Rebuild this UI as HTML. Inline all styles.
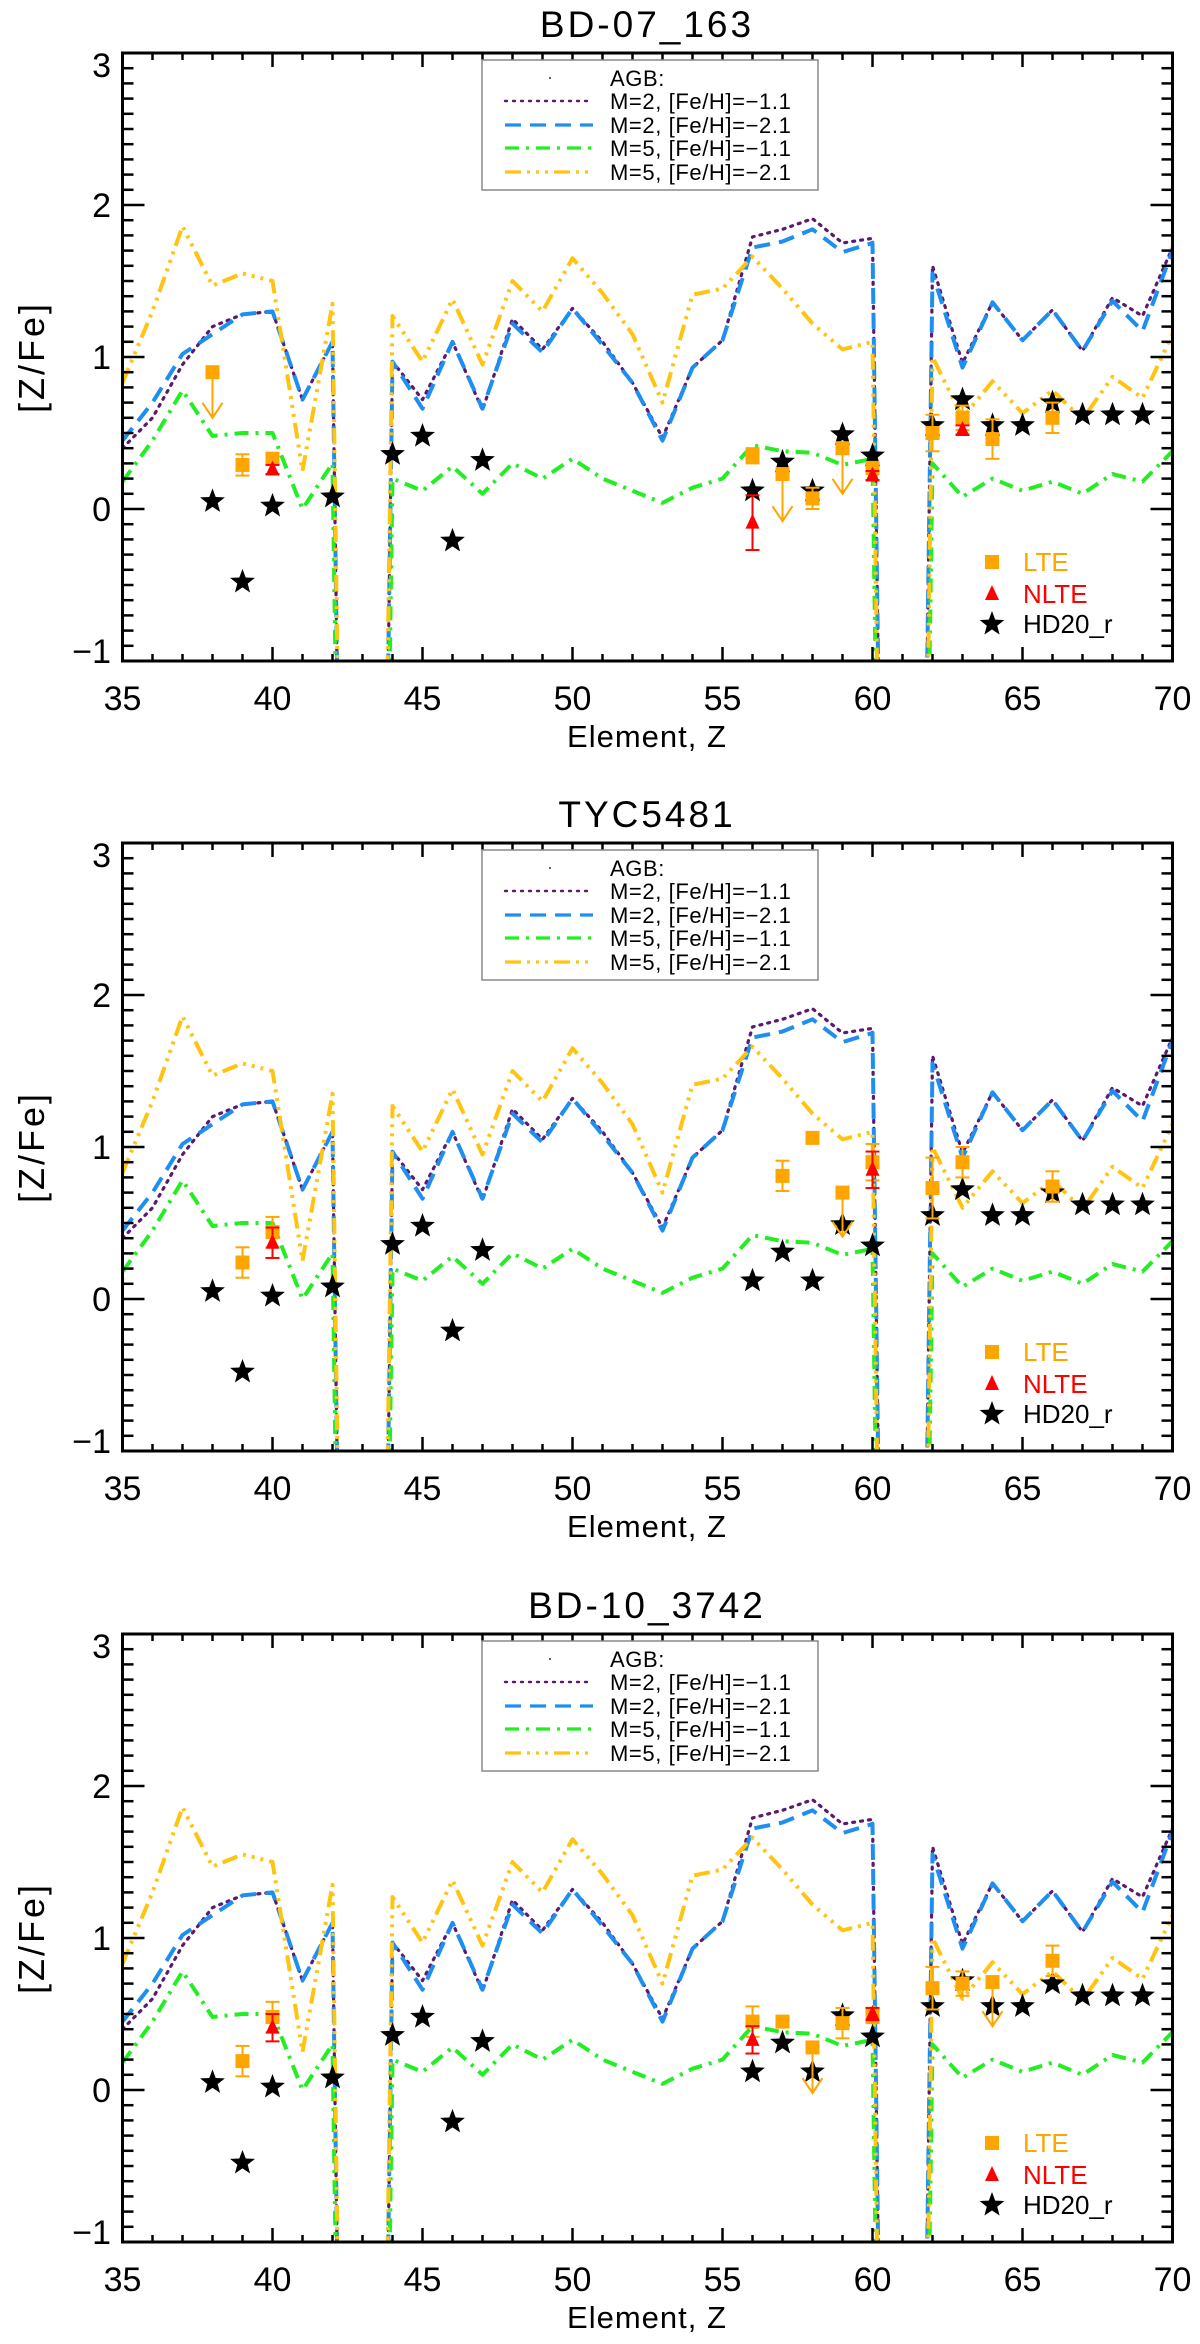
<!DOCTYPE html>
<html><head><meta charset="utf-8">
<style>
html,body{margin:0;padding:0;background:#fff;width:1200px;height:2344px;overflow:hidden;}
svg{display:block;font-family:"Liberation Sans",Arial,sans-serif;}
</style></head>
<body>
<svg id="fig" xmlns="http://www.w3.org/2000/svg" width="1200" height="2344" viewBox="0 0 1200 2344"></svg>
<script>
// ---- data ----
const modelZ = [35,36,37,38,39,40,41,42,43,44,45,46,47,48,49,50,51,52,53,54,55,56,57,58,59,60,61,62,63,64,65,66,67,68,69,70];
const m2fe11 = [0.40,0.60,0.95,1.20,1.28,1.30,0.72,1.10,-13,0.97,0.72,1.10,0.65,1.25,1.05,1.32,1.10,0.83,0.47,0.93,1.11,1.79,1.84,1.91,1.75,1.78,-13,1.60,0.96,1.36,1.11,1.31,1.04,1.39,1.27,1.72];
const m2fe21 = [0.45,0.70,1.02,1.15,1.28,1.30,0.72,1.10,-13,0.97,0.66,1.10,0.66,1.22,1.03,1.32,1.08,0.83,0.45,0.93,1.11,1.72,1.76,1.84,1.69,1.75,-13,1.55,0.93,1.36,1.11,1.31,1.04,1.37,1.17,1.70];
const m5fe11 = [0.18,0.45,0.78,0.48,0.50,0.50,0.00,0.30,-13,0.20,0.12,0.28,0.10,0.30,0.20,0.33,0.20,0.12,0.04,0.14,0.20,0.42,0.38,0.37,0.29,0.33,-13,0.30,0.08,0.20,0.12,0.18,0.10,0.23,0.18,0.38];
const m5fe21 = [0.83,1.30,1.86,1.47,1.55,1.50,0.25,1.35,-13,1.27,0.97,1.38,0.95,1.50,1.30,1.65,1.42,1.15,0.70,1.41,1.45,1.66,1.45,1.22,1.05,1.10,-13,1.00,0.60,0.84,0.63,0.78,0.59,0.87,0.73,1.15];

const hdZ = [38,39,40,42,44,45,46,47,56,57,58,59,60,62,63,64,65,66,67,68,69];
const hdVal = [0.05,-0.48,0.02,0.08,0.36,0.48,-0.21,0.32,0.12,0.31,0.12,0.49,0.35,0.55,0.72,0.55,0.55,0.70,0.62,0.62,0.62];

const titles = ["BD-07_163","TYC5481","BD-10_3742"];
const lteZ1 = [38,39,40,56,57,58,59,60,62,63,64,66];
const lteV1 = [0.90,0.29,0.33,0.35,0.23,0.07,0.40,0.27,0.50,0.60,0.46,0.60];
const lteE1 = [0,0.07,0.04,0.05,0,0.07,0,0.04,0.12,0.08,0.13,0.10];
const lteL1 = [0.60,null,null,null,-0.08,null,0.10,null,null,null,null,null];
const nlteZ1 = [40,56,60,63];
const nlteV1 = [0.26,-0.09,0.22,0.52];
const nlteE1 = [0.03,0.18,0.03,0.03];

const lteZ2 = [39,40,57,58,59,60,62,63,66];
const lteV2 = [0.24,0.44,0.81,1.06,0.70,0.90,0.73,0.90,0.74];
const lteE2 = [0.10,0.10,0.10,0.00,0.00,0.12,0.20,0.10,0.10];
const lteL2 = [null,null,null,null,0.41,null,null,null,null];
const nlteZ2 = [40,60];
const nlteV2 = [0.37,0.85];
const nlteE2 = [0.10,0.12];

const lteZ3 = [39,40,56,57,58,59,60,62,63,64,66];
const lteV3 = [0.19,0.48,0.45,0.45,0.28,0.44,0.49,0.67,0.70,0.71,0.85];
const lteE3 = [0.10,0.10,0.10,0.00,0.00,0.10,0.05,0.14,0.08,0.00,0.10];
const lteL3 = [null,null,null,null,-0.02,null,null,null,null,0.42,null];
const nlteZ3 = [40,56,60];
const nlteV3 = [0.41,0.33,0.50];
const nlteE3 = [0.09,0.09,0.04];

const xTicks = [35,40,45,50,55,60,65,70];
const yTicks = [-1,0,1,2,3];

// ---- geometry ----
const X0=122.5, X1=1172.5, ZMIN=35, ZMAX=70;
const offsets=[0,790,1581];
const YTOP=53, YBOT=661, VMIN=-1, VMAX=3;
const NS="http://www.w3.org/2000/svg";
const svg=document.getElementById('fig');
function xs(z){return X0+(z-ZMIN)/(ZMAX-ZMIN)*(X1-X0);}
function ysF(off){return v=>off+YBOT-(v-VMIN)/(VMAX-VMIN)*(YBOT-YTOP);}
function mk(tag,attrs,parent){const e=document.createElementNS(NS,tag);for(const k in attrs)e.setAttribute(k,attrs[k]);(parent||svg).appendChild(e);return e;}
function starPts(cx,cy,R){const r=R*0.42;let p=[];for(let i=0;i<10;i++){const a=-Math.PI/2+i*Math.PI/5;const rr=i%2?r:R;p.push((cx+rr*Math.cos(a)).toFixed(1)+','+(cy+rr*Math.sin(a)).toFixed(1));}return p.join(' ');}

const ORANGE="#ffa500", RED="#ff0000";
const models=[
 {v:m2fe11,c:"#5b1a70",d:"2,6",w:3.2,name:"model-m2-feh-1.1",cap:"round"},
 {v:m2fe21,c:"#1e8ff0",d:"16,9",w:4,name:"model-m2-feh-2.1",cap:"butt"},
 {v:m5fe11,c:"#22ee22",d:"14,7,3,7",w:4,name:"model-m5-feh-1.1",cap:"butt"},
 {v:m5fe21,c:"#ffc412",d:"16,6,3,6,3,6,3,6",w:4,name:"model-m5-feh-2.1",cap:"butt"}
];
const lteSets=[[lteZ1,lteV1,lteE1,lteL1],[lteZ2,lteV2,lteE2,lteL2],[lteZ3,lteV3,lteE3,lteL3]];
const nlteSets=[[nlteZ1,nlteV1,nlteE1],[nlteZ2,nlteV2,nlteE2],[nlteZ3,nlteV3,nlteE3]];

offsets.forEach((off,pi)=>{
  const ys=ysF(off);
  const g=mk('g',{});
  
  
  const cp=mk('clipPath',{id:'clip'+pi},g);
  mk('rect',{x:X0,y:off+YTOP,width:X1-X0,height:YBOT-YTOP},cp);
  const t=mk('text',{x:647,y:off+37,'text-anchor':'middle','font-size':37,'letter-spacing':3,fill:'#000'},g);
  t.textContent=titles[pi];
  
  
  const lg=mk('g',{'clip-path':'url(#clip'+pi+')'},g);
  models.forEach(m=>{
    const pts=modelZ.map((z,i)=>xs(z).toFixed(1)+','+ys(m.v[i]).toFixed(1)).join(' ');
    const pl=mk('polyline',{points:pts,fill:'none',stroke:m.c,'stroke-width':m.w,'stroke-dasharray':m.d,'stroke-linecap':m.cap,'stroke-linejoin':'round'},lg);
    
    
  });
  hdZ.forEach((z,i)=>{
    const s=mk('polygon',{points:starPts(xs(z),ys(hdVal[i]),13),fill:'#000'},g);
    
    
  });
  const [lz,lv,le,ll]=lteSets[pi];
  lz.forEach((z,i)=>{
    const x=xs(z),y=ys(lv[i]);
    if(le[i]>0){
      mk('line',{x1:x,y1:ys(lv[i]-le[i]),x2:x,y2:ys(lv[i]+le[i]),stroke:ORANGE,'stroke-width':2},g);
      mk('line',{x1:x-7,y1:ys(lv[i]-le[i]),x2:x+7,y2:ys(lv[i]-le[i]),stroke:ORANGE,'stroke-width':2},g);
      mk('line',{x1:x-7,y1:ys(lv[i]+le[i]),x2:x+7,y2:ys(lv[i]+le[i]),stroke:ORANGE,'stroke-width':2},g);
    }
    if(ll[i]!==null){
      const ye=ys(ll[i]);
      mk('line',{x1:x,y1:y,x2:x,y2:ye,stroke:ORANGE,'stroke-width':2},g);
      mk('polyline',{points:(x-10)+','+(ye-15)+' '+x+','+ye+' '+(x+10)+','+(ye-15),fill:'none',stroke:ORANGE,'stroke-width':2},g);
    }
    const r=mk('rect',{x:x-7,y:y-7,width:14,height:14,fill:ORANGE},g);
    
    
  });
  const [nz,nv,ne]=nlteSets[pi];
  nz.forEach((z,i)=>{
    const x=xs(z),y=ys(nv[i]);
    if(ne[i]>0){
      mk('line',{x1:x,y1:ys(nv[i]-ne[i]),x2:x,y2:ys(nv[i]+ne[i]),stroke:RED,'stroke-width':2},g);
      mk('line',{x1:x-7,y1:ys(nv[i]-ne[i]),x2:x+7,y2:ys(nv[i]-ne[i]),stroke:RED,'stroke-width':2},g);
      mk('line',{x1:x-7,y1:ys(nv[i]+ne[i]),x2:x+7,y2:ys(nv[i]+ne[i]),stroke:RED,'stroke-width':2},g);
    }
    const tr=mk('polygon',{points:(x-7)+','+(y+6)+' '+(x+7)+','+(y+6)+' '+x+','+(y-9),fill:RED},g);
    
    
  });
  const fr=mk('rect',{x:X0,y:off+YTOP,width:X1-X0,height:YBOT-YTOP,fill:'none',stroke:'#000','stroke-width':3},g);
  
  
  for(let z=ZMIN;z<=ZMAX;z++){
    const maj=(z%5===0), L=maj?14:7, x=xs(z);
    mk('line',{x1:x,y1:off+YBOT,x2:x,y2:off+YBOT-L,stroke:'#000','stroke-width':2.5},g);
    mk('line',{x1:x,y1:off+YTOP,x2:x,y2:off+YTOP+L,stroke:'#000','stroke-width':2.5},g);
  }
  xTicks.forEach(z=>{
    const tl=mk('text',{x:xs(z),y:off+710,'text-anchor':'middle','font-size':34,fill:'#000'},g);
    tl.textContent=z;
    
    
  });
  for(let k=0;k<=40;k++){
    const v=VMIN+k*0.1, maj=(k%10===0), L=maj?22:11, y=ys(v);
    mk('line',{x1:X0,y1:y,x2:X0+L,y2:y,stroke:'#000','stroke-width':2.5},g);
    mk('line',{x1:X1,y1:y,x2:X1-L,y2:y,stroke:'#000','stroke-width':2.5},g);
  }
  yTicks.forEach(v=>{
    let dy = v===3?12:(v===-1?-10:0);
    const tl=mk('text',{x:111,y:ys(v)+dy+12,'text-anchor':'end','font-size':34,fill:'#000'},g);
    tl.textContent=(v<0?'\u2212'+Math.abs(v):String(v));
    
    
  });
  const xt=mk('text',{x:647,y:off+747,'text-anchor':'middle','font-size':31,'letter-spacing':1,fill:'#000'},g);
  xt.textContent='Element, Z';
  
  
  const yt=mk('text',{x:0,y:0,'text-anchor':'middle','font-size':36,'letter-spacing':3,fill:'#000',transform:'translate(44,'+(off+357)+') rotate(-90)'},g);
  yt.textContent='[Z/Fe]';
  
  
  const lgd=mk('g',{},g);
  
  
  mk('rect',{x:482,y:off+60,width:336,height:130,fill:'#fff',stroke:'#888','stroke-width':1.5},lgd);
  mk('circle',{cx:550,cy:off+78,r:1,fill:'#333'},lgd);
  const labs=['AGB:','M=2, [Fe/H]=\u22121.1','M=2, [Fe/H]=\u22122.1','M=5, [Fe/H]=\u22121.1','M=5, [Fe/H]=\u22122.1'];
  const rowsY=[78,101,125,148,172];
  labs.forEach((s,i)=>{
    const tx=mk('text',{x:610,y:off+rowsY[i]+8,'font-size':22,'letter-spacing':0.6,fill:'#000'},lgd);
    tx.textContent=s;
    
    
    if(i>0){const m=models[i-1];
      mk('line',{x1:505,y1:off+rowsY[i],x2:593,y2:off+rowsY[i],stroke:m.c,'stroke-width':m.w-0.8,'stroke-dasharray':m.d,'stroke-linecap':m.cap},lgd);}
  });
  const dl=mk('g',{},g);
  
  
  mk('rect',{x:985,y:off+555,width:14,height:14,fill:ORANGE},dl);
  mk('polygon',{points:'985,'+(off+600)+' 999,'+(off+600)+' 992,'+(off+585),fill:RED},dl);
  mk('polygon',{points:starPts(992,off+624,13),fill:'#000'},dl);
  [['LTE',ORANGE,562],['NLTE',RED,594],['HD20_r','#000',624]].forEach(a=>{
    const tx=mk('text',{x:1023,y:off+a[2]+9,'font-size':26,fill:a[1]},dl);
    tx.textContent=a[0];
    
    
  });
});
</script>
</body></html>
